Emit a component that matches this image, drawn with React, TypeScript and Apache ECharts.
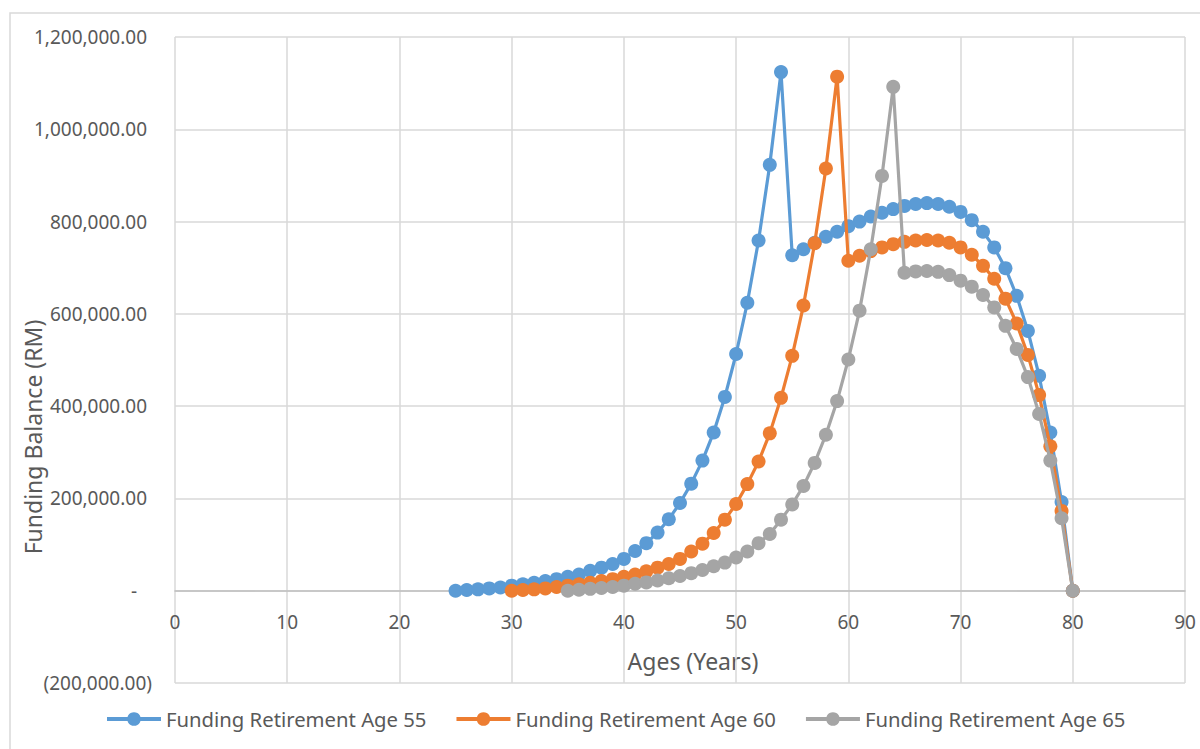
import React, { useEffect, useRef } from "react";
import * as echarts from "echarts";

const ages55 = [25,26,27,28,29,30,31,32,33,34,35,36,37,38,39,40,41,42,43,44,45,46,47,48,49,50,51,52,53,54,55,56,57,58,59,60,61,62,63,64,65,66,67,68,69,70,71,72,73,74,75,76,77,78,79,80];
const fund55 = [0,1500,3000,5000,7000,11000,14000,17000,21000,25000,30000,35000,43000,50000,58000,69000,86000,103000,126000,155000,190000,232000,282000,343000,420000,513000,624000,759000,923000,1124000,727000,740000,754000,767000,778000,790000,800000,811000,819000,827000,834000,838000,840000,838000,832000,821000,803000,778000,744000,699000,639000,563000,466000,343000,192000,0];

const ages60 = [30,31,32,33,34,35,36,37,38,39,40,41,42,43,44,45,46,47,48,49,50,51,52,53,54,55,56,57,58,59,60,61,62,63,64,65,66,67,68,69,70,71,72,73,74,75,76,77,78,79,80];
const fund60 = [0,1500,3000,5000,8000,11000,14000,17000,21000,25000,30000,35000,42000,50000,58000,69000,85000,102000,125000,154000,188000,231000,280000,341000,418000,509000,618000,753000,915000,1114000,715000,726000,736000,744000,751000,756000,759000,760000,759000,754000,744000,728000,704000,676000,633000,579000,511000,424000,313000,173000,0];

const ages65 = [35,36,37,38,39,40,41,42,43,44,45,46,47,48,49,50,51,52,53,54,55,56,57,58,59,60,61,62,63,64,65,66,67,68,69,70,71,72,73,74,75,76,77,78,79,80];
const fund65 = [0,2000,4000,6000,8000,11000,15000,18000,22000,27000,32000,38000,45000,53000,61000,72000,85000,103000,123000,154000,187000,227000,277000,338000,411000,501000,607000,740000,899000,1092000,689000,692000,693000,691000,684000,672000,659000,641000,614000,574000,524000,463000,383000,282000,157000,0];

const seriesNames = ["Funding Retirement Age 55", "Funding Retirement Age 60", "Funding Retirement Age 65"];
const colors = ["#5b9bd5", "#ed7d31", "#a5a5a5"];
const xTitle = "Ages (Years)";
const yTitle = "Funding Balance (RM)";

const FONT = "'Noto Sans', 'Open Sans', sans-serif";
const TXT = "#595959";

const Y_MIN = -200000;
const Y_MAX = 1200000;
const GRID_TOP = 37;
const GRID_BOTTOM = 66;
const H = 749;

function fmtY(v: number): string {
  if (v === 0) return "-\u00a0\u00a0\u00a0";
  const s = Math.abs(v).toLocaleString("en-US", { minimumFractionDigits: 2, maximumFractionDigits: 2 });
  return v < 0 ? "(" + s + ")" : s + "\u00a0";
}

export default function App() {
  const ref = useRef<HTMLDivElement>(null);
  useEffect(() => {
    if (!ref.current) return;
    const chart = echarts.init(ref.current, null, { renderer: "svg" });
    const gridH = H - GRID_TOP - GRID_BOTTOM;
    const zeroOffset = (gridH * (0 - Y_MIN)) / (Y_MAX - Y_MIN);
    const mk = (i: number, xs: number[], ys: number[]) => ({
      name: seriesNames[i],
      type: "line",
      data: xs.map((x, k) => [x, ys[k]]),
      symbol: "circle",
      symbolSize: 14,
      showSymbol: true,
      lineStyle: { width: 3.2, color: colors[i] },
      itemStyle: { color: colors[i] },
      z: 3 + i,
    });
    chart.setOption({
      animation: false,
      backgroundColor: "#ffffff",
      graphic: [
        {
          type: "rect",
          shape: { x: 10, y: 13, width: 1300, height: 900 },
          style: { fill: "none", stroke: "#d9d9d9", lineWidth: 1.5 },
          z: -10,
        },
        {
          type: "text",
          x: 33,
          y: 437,
          rotation: Math.PI / 2,
          style: {
            text: yTitle,
            fontSize: 23,
            fontFamily: FONT,
            fill: TXT,
            align: "center",
            verticalAlign: "middle",
          },
        },
        {
          type: "text",
          x: 693,
          y: 661,
          style: {
            text: xTitle,
            fontSize: 23,
            fontFamily: FONT,
            fill: TXT,
            align: "center",
            verticalAlign: "middle",
          },
        },
      ],
      legend: {
        top: 704,
        left: 100,
        itemWidth: 54,
        itemHeight: 17,
        itemGap: 28,
        lineStyle: { width: 4 },
        textStyle: { color: TXT, fontSize: 20.3, fontFamily: FONT },
        data: seriesNames,
      },
      grid: {
        left: 175,
        right: 15,
        top: GRID_TOP,
        bottom: GRID_BOTTOM,
        containLabel: false,
        outerBoundsMode: "none",
      },
      xAxis: {
        type: "value",
        min: 0,
        max: 90,
        interval: 10,
        position: "bottom",
        offset: -zeroOffset,
        axisLine: { onZero: false, lineStyle: { color: "#bfbfbf", width: 1.5 } },
        axisTick: { show: false },
        axisLabel: { color: TXT, fontSize: 19, fontFamily: FONT, margin: 22 },
        splitLine: { show: true, lineStyle: { color: "#d9d9d9", width: 1.5 } },
      },
      yAxis: {
        type: "value",
        min: Y_MIN,
        max: Y_MAX,
        interval: 200000,
        axisLine: { show: false },
        axisTick: { show: false },
        axisLabel: { color: TXT, fontSize: 19, fontFamily: FONT, margin: 23, formatter: fmtY },
        splitLine: { show: true, lineStyle: { color: "#d9d9d9", width: 1.5 } },
      },
      series: [mk(0, ages55, fund55), mk(1, ages60, fund60), mk(2, ages65, fund65)],
    });
    return () => chart.dispose();
  }, []);
  return (
    <div
      ref={ref}
      style={{ position: "fixed", left: 0, top: 0, width: 1200, height: H }}
    />
  );
}
